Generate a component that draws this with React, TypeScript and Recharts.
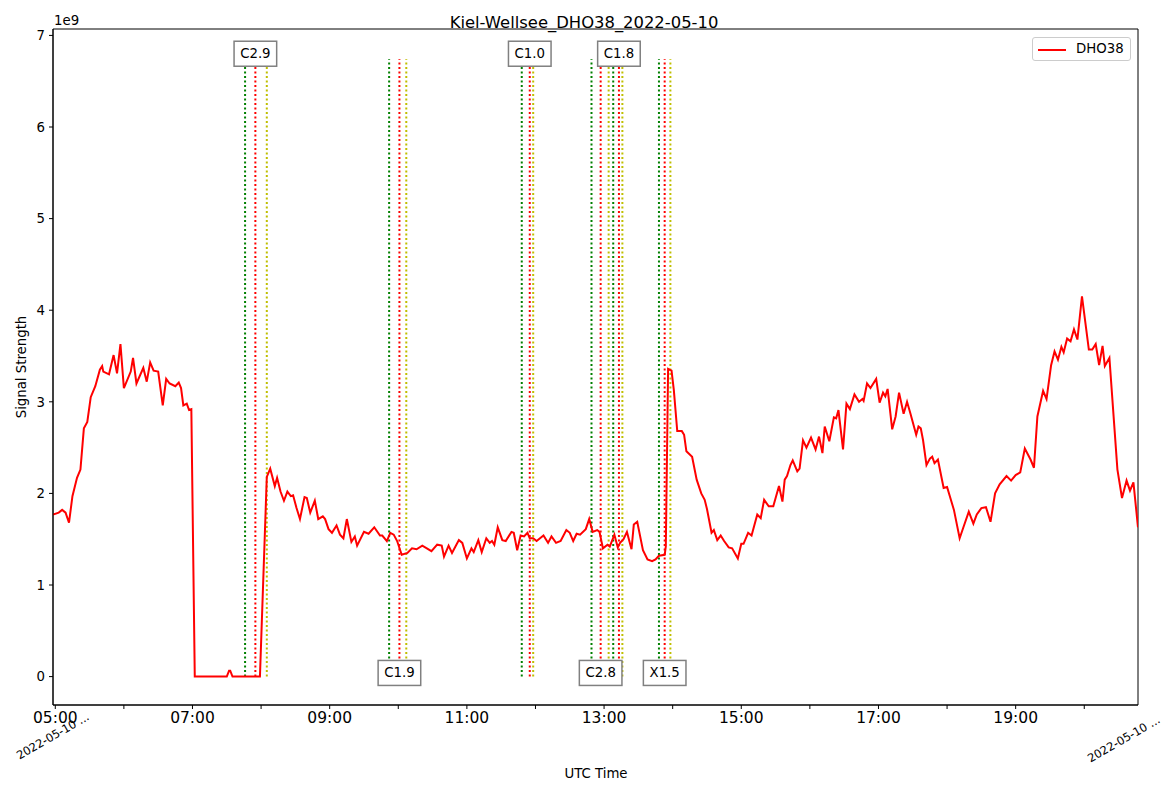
import React from "react";
import {
  LineChart,
  Line,
  XAxis,
  YAxis,
  ReferenceLine,
  ReferenceDot,
  ReferenceArea,
  Legend,
} from "recharts";

const FONT = "'DejaVu Sans', sans-serif";
const W = 1153;
const H = 776;

// signal strength in units of 1e9
const TIMES = [
  "04:58", "05:03", "05:06", "05:09", "05:12", "05:15", "05:19", "05:22", "05:25", "05:28",
  "05:31", "05:35", "05:39", "05:41", "05:42", "05:47", "05:51", "05:54", "05:57", "06:00",
  "06:06", "06:08", "06:11", "06:17", "06:20", "06:23", "06:26", "06:30", "06:34", "06:37",
  "06:40", "06:45", "06:48", "06:50", "06:52", "06:55", "06:57", "06:59", "07:02", "07:30",
  "07:32", "07:33", "07:35", "07:59", "08:05", "08:08", "08:12", "08:14", "08:17", "08:20",
  "08:23", "08:26", "08:28", "08:31", "08:34", "08:38", "08:40", "08:43", "08:47", "08:50",
  "08:54", "08:56", "08:59", "09:02", "09:06", "09:09", "09:12", "09:15", "09:19", "09:22",
  "09:24", "09:30", "09:34", "09:39", "09:44", "09:46", "09:50", "09:53", "09:56", "09:59",
  "10:03", "10:08", "10:12", "10:16", "10:21", "10:25", "10:29", "10:34", "10:38", "10:40",
  "10:44", "10:47", "10:53", "10:56", "11:00", "11:04", "11:06", "11:10", "11:13", "11:17",
  "11:20", "11:22", "11:24", "11:27", "11:31", "11:34", "11:39", "11:41", "11:44", "11:47",
  "11:50", "11:53", "11:55", "11:58", "12:01", "12:07", "12:11", "12:14", "12:18", "12:22",
  "12:27", "12:30", "12:33", "12:36", "12:39", "12:44", "12:47", "12:50", "12:54", "12:56",
  "12:59", "13:03", "13:05", "13:09", "13:12", "13:14", "13:17", "13:20", "13:24", "13:26",
  "13:29", "13:34", "13:38", "13:42", "13:45", "13:48", "13:53", "13:54", "13:56", "13:59",
  "14:01", "14:04", "14:08", "14:10", "14:12", "14:17", "14:21", "14:25", "14:28", "14:30",
  "14:34", "14:36", "14:39", "14:42", "14:45", "14:49", "14:52", "14:57", "15:00", "15:02",
  "15:06", "15:09", "15:14", "15:17", "15:20", "15:24", "15:28", "15:33", "15:36", "15:38",
  "15:40", "15:43", "15:45", "15:49", "15:51", "15:54", "15:57", "16:01", "16:05", "16:08",
  "16:11", "16:13", "16:17", "16:21", "16:23", "16:25", "16:29", "16:32", "16:35", "16:39",
  "16:43", "16:46", "16:47", "16:50", "16:53", "16:58", "17:01", "17:04", "17:06", "17:08",
  "17:12", "17:15", "17:18", "17:22", "17:25", "17:28", "17:33", "17:35", "17:37", "17:39",
  "17:42", "17:45", "17:47", "17:49", "17:52", "17:57", "18:00", "18:06", "18:11", "18:14",
  "18:19", "18:23", "18:26", "18:30", "18:34", "18:38", "18:42", "18:46", "18:52", "18:56",
  "19:00", "19:04", "19:08", "19:13", "19:16", "19:19", "19:24", "19:27", "19:31", "19:34",
  "19:37", "19:40", "19:42", "19:45", "19:48", "19:51", "19:54", "19:58", "20:04", "20:07",
  "20:10", "20:13", "20:16", "20:18", "20:22", "20:29", "20:33", "20:37", "20:40", "20:43",
  "20:47",
];

const DHO38 = [
  1.77, 1.79, 1.82, 1.79, 1.68, 1.97, 2.17, 2.26, 2.71, 2.78,
  3.05, 3.17, 3.35, 3.39, 3.33, 3.3, 3.51, 3.31, 3.63, 3.15,
  3.33, 3.48, 3.2, 3.37, 3.22, 3.43, 3.34, 3.33, 2.96, 3.25,
  3.2, 3.17, 3.21, 3.15, 2.96, 2.98, 2.91, 2.92, 0, 0,
  0.065, 0.065, 0, 0, 2.18, 2.27, 2.08, 2.17, 2.02, 1.92,
  2.02, 1.97, 1.98, 1.84, 1.72, 1.96, 1.95, 1.79, 1.92, 1.72,
  1.75, 1.72, 1.61, 1.57, 1.65, 1.55, 1.51, 1.72, 1.47, 1.53,
  1.43, 1.58, 1.56, 1.63, 1.54, 1.54, 1.48, 1.57, 1.55, 1.48,
  1.33, 1.35, 1.4, 1.39, 1.43, 1.4, 1.37, 1.44, 1.43, 1.31,
  1.43, 1.35, 1.49, 1.46, 1.29, 1.4, 1.36, 1.49, 1.36, 1.51,
  1.46, 1.48, 1.44, 1.63, 1.49, 1.48, 1.58, 1.57, 1.38, 1.54,
  1.53, 1.57, 1.51, 1.51, 1.48, 1.54, 1.46, 1.53, 1.46, 1.48,
  1.6, 1.57, 1.48, 1.56, 1.55, 1.61, 1.72, 1.58, 1.6, 1.58,
  1.4, 1.44, 1.42, 1.55, 1.41, 1.46, 1.5, 1.58, 1.39, 1.66,
  1.69, 1.38, 1.28, 1.26, 1.28, 1.32, 1.33, 1.42, 3.36, 3.34,
  3.13, 2.68, 2.68, 2.64, 2.46, 2.4, 2.15, 2.0, 1.93, 1.83,
  1.57, 1.6, 1.49, 1.54, 1.48, 1.41, 1.4, 1.29, 1.45, 1.45,
  1.57, 1.54, 1.77, 1.73, 1.93, 1.86, 1.86, 2.08, 1.91, 2.15,
  2.19, 2.31, 2.36, 2.24, 2.27, 2.58, 2.5, 2.61, 2.48, 2.62,
  2.44, 2.73, 2.57, 2.83, 2.82, 2.91, 2.48, 2.98, 2.92, 3.08,
  3.0, 3.03, 3.01, 3.2, 3.15, 3.25, 2.99, 3.1, 3.06, 3.14,
  2.7, 2.84, 3.1, 2.87, 3.0, 2.87, 2.64, 2.73, 2.71, 2.58,
  2.31, 2.38, 2.4, 2.33, 2.37, 2.06, 2.07, 1.82, 1.51, 1.62,
  1.8, 1.67, 1.77, 1.84, 1.85, 1.69, 2.0, 2.1, 2.19, 2.14,
  2.2, 2.23, 2.49, 2.37, 2.28, 2.84, 3.12, 3.03, 3.4, 3.55,
  3.46, 3.6, 3.54, 3.69, 3.66, 3.79, 3.68, 4.15, 3.57, 3.57,
  3.63, 3.4, 3.61, 3.39, 3.48, 2.26, 1.95, 2.14, 2.03, 2.12,
  1.63,
];

const FLARE_CLASSES = ["C2.9", "C1.9", "C1.0", "C2.8", "C1.8", "X1.5"];
const FLARE_START = ["07:46", "09:52", "11:48", "12:49", "13:08", "13:48"];
const FLARE_PEAK = ["07:55", "10:01", "11:55", "12:57", "13:13", "13:53"];
const FLARE_END = ["08:05", "10:07", "11:58", "13:04", "13:16", "13:58"];

const Y_TICKS = [0, 1, 2, 3, 4, 5, 6, 7];
const X_TICK_HOURS = [5, 6, 7, 8, 9, 10, 11, 12, 13, 14, 15, 16, 17, 18, 19, 20];

const toMin = (s: string) => {
  const [h, m] = s.split(":").map(Number);
  return h * 60 + m;
};

const X_MIN = toMin("04:58");
const X_MAX = toMin("20:47");
const Y_MIN = -0.31e9;
const Y_MAX = 7.07e9;
const LINE_TOP = 6.74e9;

const data = TIMES.map((t, i) => ({ t: toMin(t), v: DHO38[i] * 1e9 }));

const fmtTick = (v: number) => {
  const h = Math.round(v / 60);
  if (h % 2 === 0) return "";
  return `${String(h).padStart(2, "0")}:00`;
};

const FlareLabel = ({ cx, cy, text }: any) => {
  const w = text.length * 8.4 + 9;
  const h = 25;
  return (
    <g>
      <rect x={cx - w / 2} y={cy - h / 2} width={w} height={h} fill="#fff" stroke="#808080" strokeWidth={1.5} />
      <text x={cx} y={cy} textAnchor="middle" dominantBaseline="central" fontSize={13.3} fontFamily={FONT} fill="#000">
        {text}
      </text>
    </g>
  );
};

const LegendBox = () => (
  <div
    style={{
      width: 97,
      height: 22,
      border: "1px solid #ccc",
      borderRadius: 3,
      background: "#fff",
      position: "relative",
      fontFamily: FONT,
      fontSize: 13.3,
    }}
  >
    <div style={{ position: "absolute", left: 5, top: 11, width: 28, height: 2, background: "#ff0000" }} />
    <div style={{ position: "absolute", left: 43, top: 3, lineHeight: "16px" }}>DHO38</div>
  </div>
);

export default function App() {
  const flareColors = ["#008000", "#ff0000", "#bfbf00"];
  return (
    <div style={{ position: "relative", width: W, height: H }}>
      <LineChart
        width={W}
        height={H}
        data={data}
        margin={{ top: 21, right: 23, left: 0, bottom: 39 }}
      >
        <XAxis
          dataKey="t"
          type="number"
          domain={[X_MIN, X_MAX]}
          allowDataOverflow
          ticks={X_TICK_HOURS.map((h) => h * 60)}
          tickFormatter={fmtTick}
          interval={0}
          height={40}
          tickSize={4}
          tickMargin={3}
          stroke="#000"
          tick={{ fill: "#000", fontSize: 15.5, fontFamily: FONT }}
        />
        <YAxis
          type="number"
          domain={[Y_MIN, Y_MAX]}
          allowDataOverflow
          ticks={Y_TICKS.map((v) => v * 1e9)}
          tickFormatter={(v: number) => String(Math.round(v / 1e9))}
          interval={0}
          width={45}
          tickSize={4}
          tickMargin={4}
          stroke="#000"
          tick={{ fill: "#000", fontSize: 13.3, fontFamily: FONT }}
        />
        {FLARE_CLASSES.map((c, i) =>
          [FLARE_START[i], FLARE_PEAK[i], FLARE_END[i]].map((t, j) => (
            <ReferenceLine
              key={`${c}-${j}`}
              segment={[
                { x: toMin(t), y: 0 },
                { x: toMin(t), y: LINE_TOP },
              ]}
              stroke={flareColors[j]}
              strokeWidth={2}
              strokeDasharray="2 2.5"
            />
          ))
        )}
        <Line
          type="linear"
          dataKey="v"
          name="DHO38"
          stroke="#ff0000"
          strokeWidth={2}
          dot={false}
          isAnimationActive={false}
        />
        {FLARE_CLASSES.map((c, i) => (
          <ReferenceDot
            key={c}
            x={toMin(FLARE_PEAK[i])}
            y={i % 2 === 0 ? 6.8e9 : 0.04e9}
            shape={(p: any) => <FlareLabel cx={p.cx} cy={p.cy} text={c} />}
          />
        ))}
        <ReferenceArea x1={X_MIN} x2={X_MAX} y1={Y_MIN} y2={Y_MAX} fill="none" stroke="#000" strokeWidth={1} />
        <Legend
          layout="horizontal"
          verticalAlign="middle"
          align="center"
          content={() => <LegendBox />}
          wrapperStyle={{ left: 1024, top: 29, width: 99, height: 24 }}
        />
      </LineChart>
      <svg
        width={W}
        height={H}
        style={{ position: "absolute", left: 0, top: 0, pointerEvents: "none", overflow: "visible" }}
        fontFamily={FONT}
      >
        <text x={576} y={20} textAnchor="middle" fontSize={16.4} fill="#000">
          Kiel-Wellsee_DHO38_2022-05-10
        </text>
        <text x={46} y={17} fontSize={13.3} fill="#000">1e9</text>
        <text x={13} y={359} transform="rotate(-90 13 359)" textAnchor="middle" dominantBaseline="central" fontSize={13.3} fill="#000">
          Signal Strength
        </text>
        <text x={588} y={765} textAnchor="middle" dominantBaseline="central" fontSize={13.3} fill="#000">
          UTC Time
        </text>
        <text x={82} y={711} transform="rotate(-30 82 711)" textAnchor="end" fontSize={11.5} fill="#000">
          2022-05-10 ...
        </text>
        <text x={1153} y={714} transform="rotate(-30 1153 714)" textAnchor="end" fontSize={11.5} fill="#000">
          2022-05-10 ...
        </text>
      </svg>
    </div>
  );
}
